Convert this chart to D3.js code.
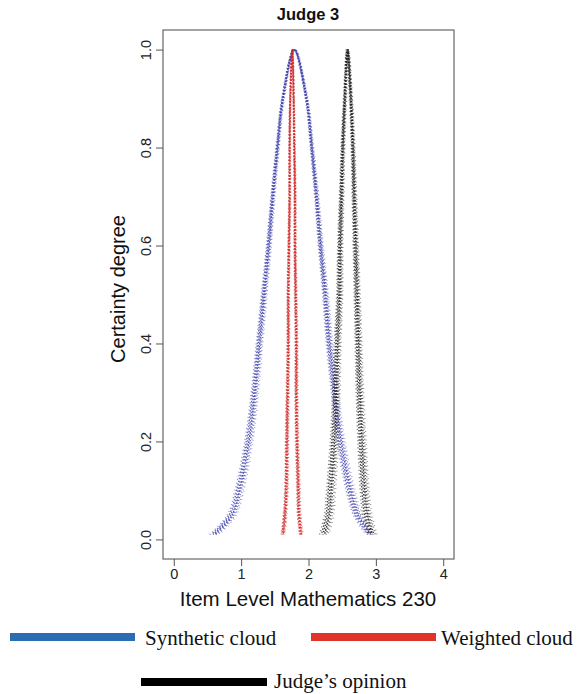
<!DOCTYPE html>
<html>
<head>
<meta charset="utf-8">
<script src="https://cdn.jsdelivr.net/npm/d3@7"></script>
<style>
  body { margin: 0; background: #fff; }
  svg { display: block; }
</style>
</head>
<body>
<svg id="chart" width="585" height="694"></svg>
<script>
const certainty = [1, 0.9, 0.8, 0.7, 0.6, 0.5, 0.4, 0.3, 0.2, 0.1, 0.05, 0.01];

// x position of each strand (left / right flank) per certainty level
const synthLeft     = [1.79, 1.62, 1.54, 1.47, 1.41, 1.34, 1.27, 1.20, 1.11, 0.97, 0.86, 0.60];
const synthRight    = [1.80, 1.97, 2.05, 2.12, 2.18, 2.25, 2.31, 2.39, 2.48, 2.62, 2.73, 2.92];
const weightedLeft  = [1.76, 1.73, 1.72, 1.72, 1.71, 1.70, 1.70, 1.69, 1.68, 1.67, 1.65, 1.62];
const weightedRight = [1.76, 1.78, 1.79, 1.80, 1.80, 1.81, 1.82, 1.82, 1.83, 1.85, 1.86, 1.89];
const judgeLeft     = [2.58, 2.54, 2.51, 2.49, 2.47, 2.46, 2.43, 2.41, 2.38, 2.33, 2.30, 2.23];
const judgeRight    = [2.59, 2.63, 2.66, 2.68, 2.70, 2.72, 2.74, 2.76, 2.79, 2.83, 2.87, 2.94];

const xTicks = [0, 1, 2, 3, 4];
const yTicks = [0, 0.2, 0.4, 0.6, 0.8, 1.0];

const legendNames = ["Synthetic cloud", "Weighted cloud", "Judge\u2019s opinion"];

const clouds = [
  {name: "synth", left: synthLeft, right: synthRight, color: "#3a3ca8", s0: 0.9, s1: 3.6},
  {name: "weighted", left: weightedLeft, right: weightedRight, color: "#d02a2a", s0: 0.6, s1: 1.2},
  {name: "judge", left: judgeLeft, right: judgeRight, color: "#1a1a1a", s0: 1.1, s1: 3.4}
];

const svg = d3.select("#chart");
const box = {left: 163, right: 454, top: 30, bottom: 559};

// R style 4% padding on both ends
const x = d3.scaleLinear().domain([-0.16, 4.16]).range([box.left, box.right]);
const y = d3.scaleLinear().domain([-0.04, 1.04]).range([box.bottom, box.top]);

const sans = "'Liberation Sans', Arial, Helvetica, sans-serif";
const serif = "'Liberation Serif', 'Times New Roman', serif";

// clouds: each strand drawn as several speckled passes, spreading toward the bottom
const g = svg.append("g");
const passes = [
  {k: -1.0, dash: "1.1 2.6", off: 0.0, op: 0.55},
  {k: -0.6, dash: "1.6 1.5", off: 1.3, op: 0.75},
  {k: -0.25, dash: "1.3 1.9", off: 0.6, op: 0.85},
  {k: 0.1, dash: "1.8 1.3", off: 2.1, op: 0.85},
  {k: 0.45, dash: "1.2 2.0", off: 0.4, op: 0.8},
  {k: 0.8, dash: "1.0 2.4", off: 1.7, op: 0.6},
  {k: 1.15, dash: "0.9 3.4", off: 0.9, op: 0.45}
];
clouds.forEach(cl => {
  // one path: up the left flank then down the right flank
  const pts = [];
  for (let i = certainty.length - 1; i >= 0; i--) pts.push({v: cl.left[i], c: certainty[i]});
  for (let i = 1; i < certainty.length; i++) pts.push({v: cl.right[i], c: certainty[i]});
  passes.forEach(p => {
    const line = d3.line()
      .x(d => x(d.v) + p.k * (cl.s0 + cl.s1 * (1 - d.c)))
      .y(d => y(d.c))
      .curve(d3.curveCatmullRom);
    g.append("path")
      .attr("d", line(pts))
      .attr("fill", "none")
      .attr("stroke", cl.color)
      .attr("stroke-width", 1.4)
      .attr("stroke-dasharray", p.dash)
      .attr("stroke-dashoffset", p.off)
      .attr("opacity", p.op);
  });
});

// box
svg.append("rect")
  .attr("x", box.left).attr("y", box.top)
  .attr("width", box.right - box.left).attr("height", box.bottom - box.top)
  .attr("fill", "none").attr("stroke", "#666").attr("stroke-width", 1.2);

// x axis
const xa = svg.append("g")
  .attr("transform", `translate(0,${box.bottom})`)
  .call(d3.axisBottom(x).tickValues(xTicks).tickFormat(d3.format("d")).tickSize(7).tickPadding(3));
xa.select(".domain").remove();
xa.selectAll("line").attr("stroke", "#555");
xa.selectAll("text").attr("font-family", sans).attr("font-size", 14.5).attr("fill", "#222");

// y axis, labels rotated like R
const ya = svg.append("g")
  .attr("transform", `translate(${box.left},0)`)
  .call(d3.axisLeft(y).tickValues(yTicks).tickFormat(d3.format(".1f")).tickSize(7));
ya.select(".domain").remove();
ya.selectAll("line").attr("stroke", "#555");
ya.selectAll("text")
  .attr("x", 0).attr("y", 0).attr("dy", null)
  .attr("text-anchor", "middle")
  .attr("transform", "translate(-12,0) rotate(-90)")
  .attr("font-family", sans).attr("font-size", 14.5).attr("fill", "#222");

// titles
svg.append("text")
  .attr("x", 308).attr("y", 20)
  .attr("text-anchor", "middle")
  .attr("font-family", sans).attr("font-weight", "bold").attr("font-size", 16.5)
  .attr("fill", "#111")
  .text("Judge 3");

svg.append("text")
  .attr("x", 308).attr("y", 606)
  .attr("text-anchor", "middle")
  .attr("font-family", sans).attr("font-size", 20.5).attr("fill", "#111")
  .text("Item Level Mathematics 230");

svg.append("text")
  .attr("transform", "translate(125,289) rotate(-90)")
  .attr("text-anchor", "middle")
  .attr("font-family", sans).attr("font-size", 20).attr("fill", "#111")
  .text("Certainty degree");

// legend
const legendColors = ["#2a6db3", "#e0342a", "#000000"];
const legendPos = [
  {x1: 10, x2: 135, y: 637, tx: 145, ty: 645},
  {x1: 311, x2: 436, y: 637, tx: 441, ty: 645},
  {x1: 141, x2: 267, y: 682, tx: 274, ty: 688}
];
const lg = svg.append("g");
legendNames.forEach((name, i) => {
  const p = legendPos[i];
  lg.append("rect")
    .attr("x", p.x1).attr("y", p.y - 4)
    .attr("width", p.x2 - p.x1).attr("height", 8)
    .attr("fill", legendColors[i]);
  lg.append("text")
    .attr("x", p.tx).attr("y", p.ty)
    .attr("font-family", serif).attr("font-size", 21).attr("fill", "#111")
    .text(name);
});
</script>
</body>
</html>
